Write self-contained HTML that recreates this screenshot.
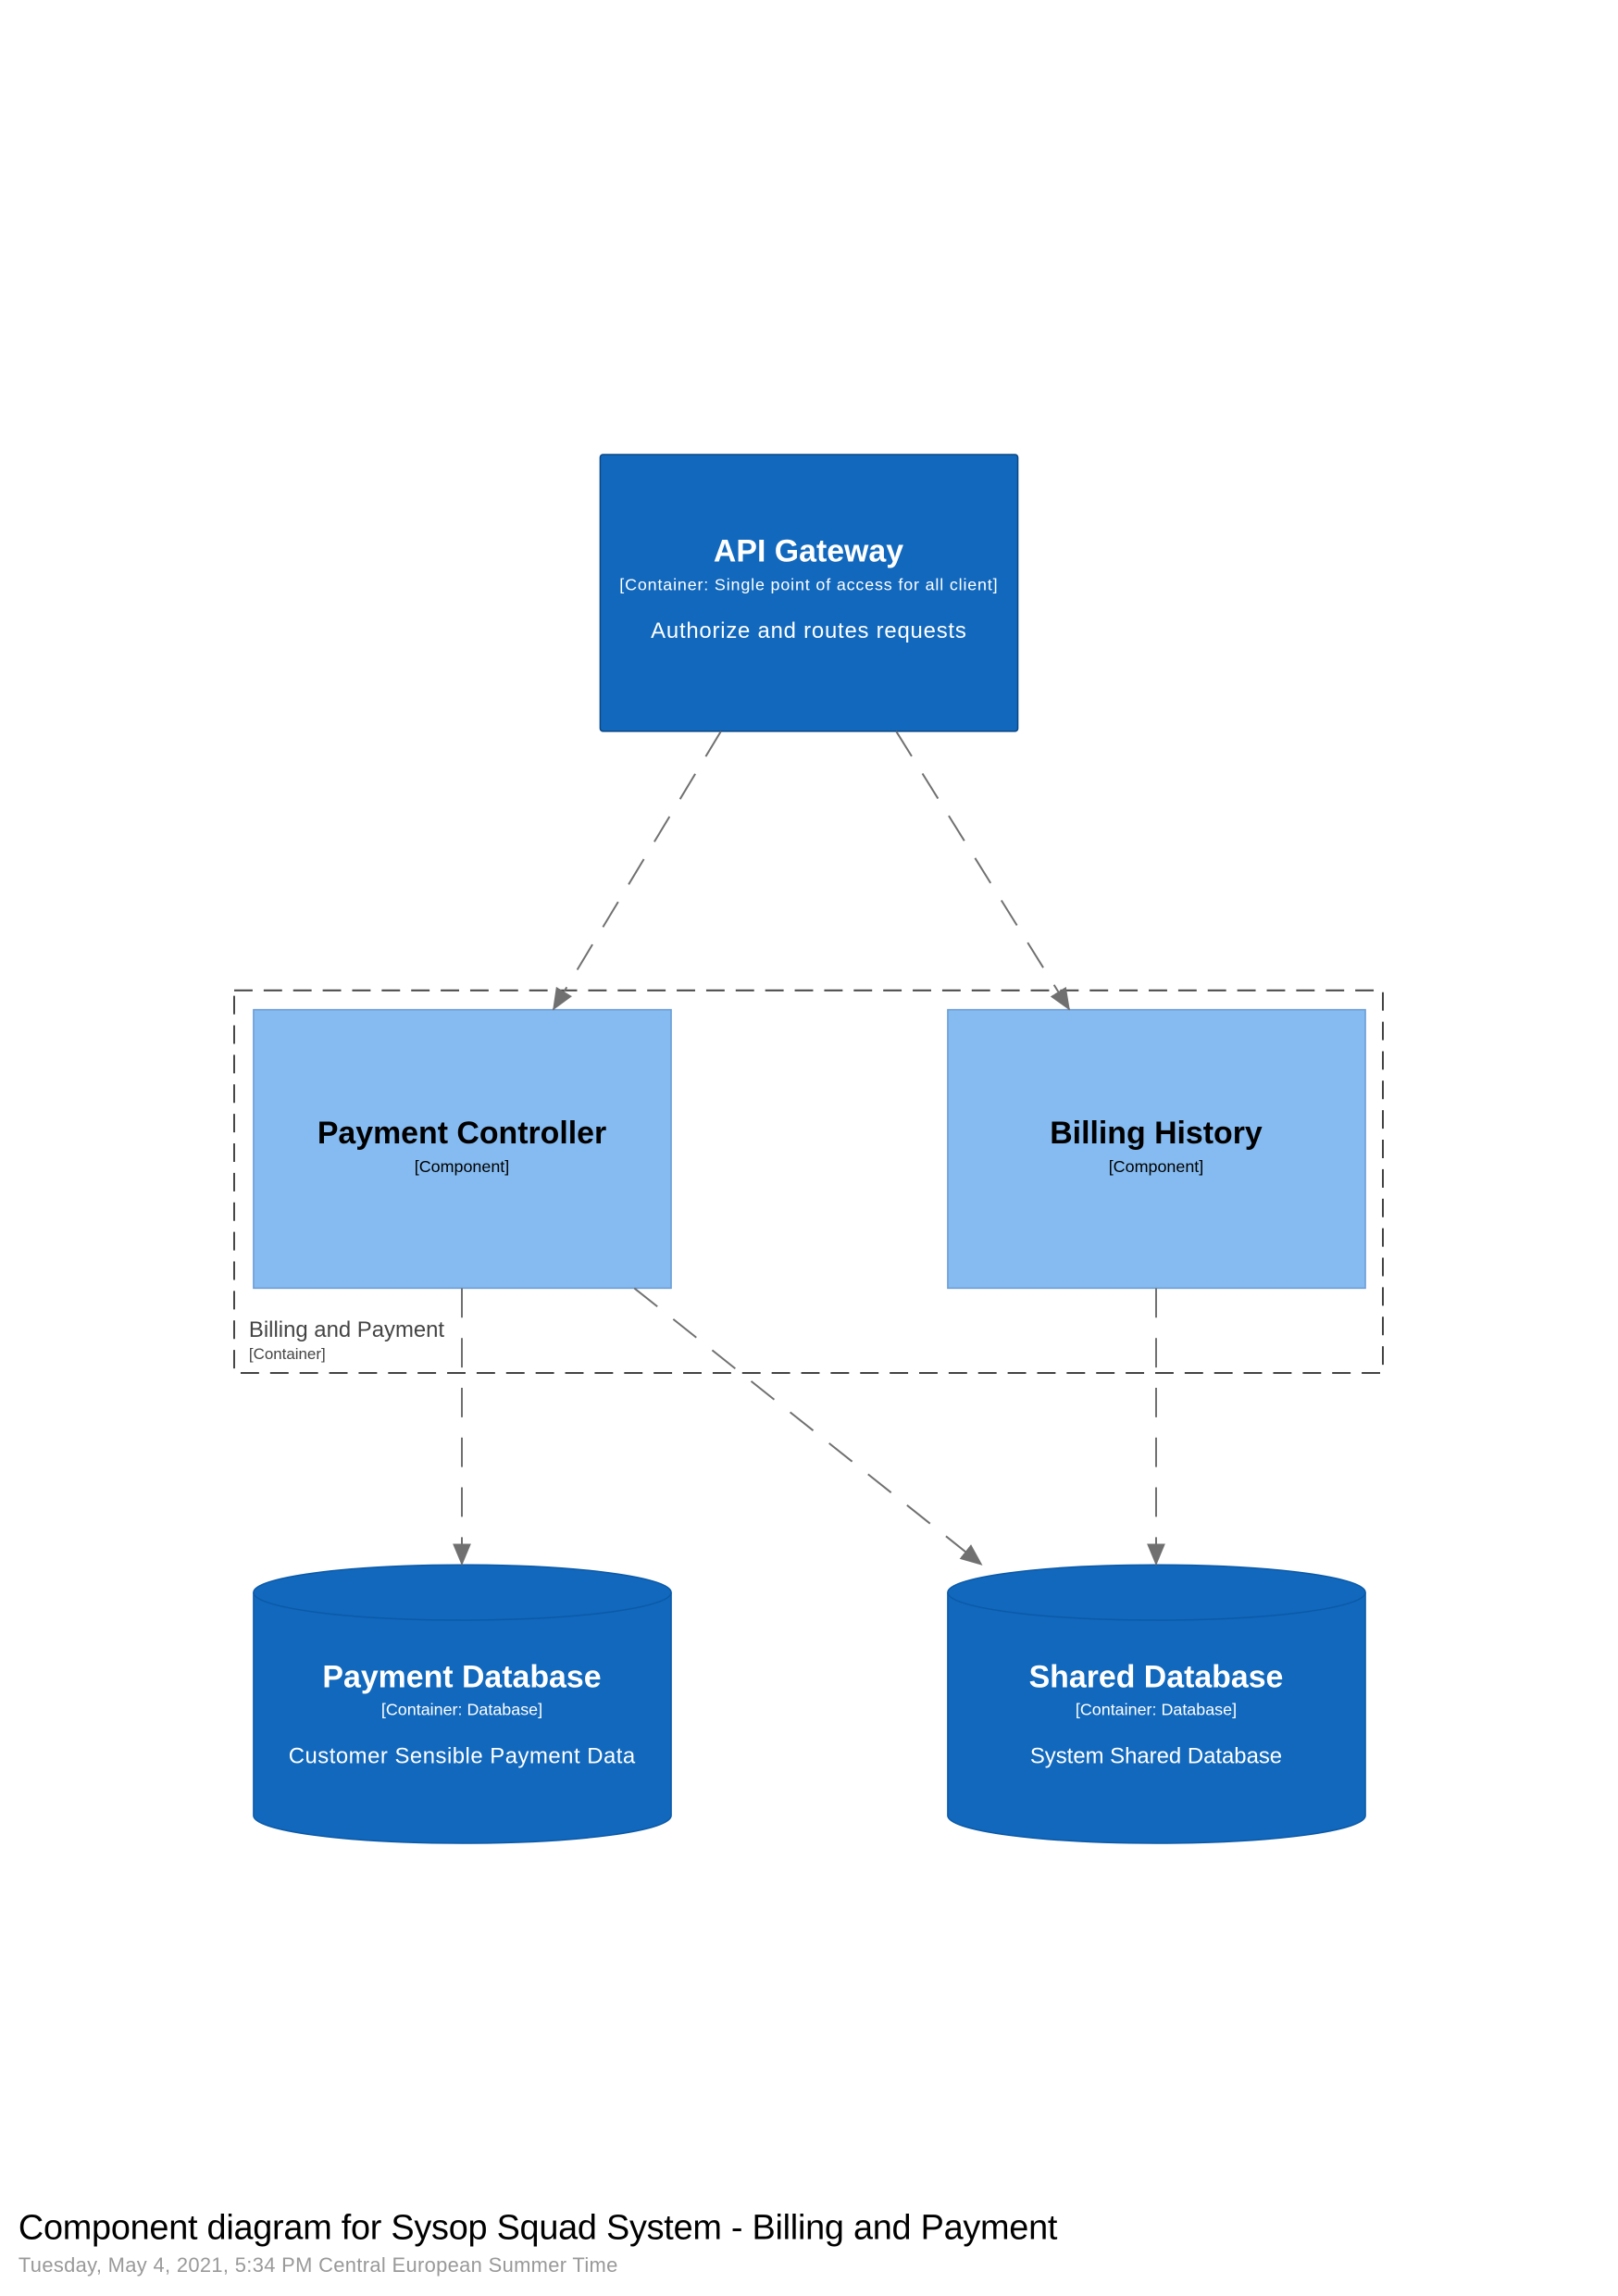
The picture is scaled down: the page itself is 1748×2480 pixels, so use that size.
<!DOCTYPE html>
<html><head><meta charset="utf-8"><style>html,body{margin:0;padding:0;background:#fff}svg{display:block}</style></head>
<body>
<svg width="1748" height="2480" viewBox="0 0 1748 2480" xmlns="http://www.w3.org/2000/svg" font-family="Liberation Sans, sans-serif">
<defs>
<marker id="ah2" markerWidth="26" markerHeight="26" refX="23" refY="13" orient="auto" markerUnits="userSpaceOnUse">
<path d="M0,3 L24,13 L0,23 z" fill="#707070"/>
</marker>
</defs>
<rect width="1748" height="2480" fill="#fff"/>
<g transform="scale(0.996)">
<rect x="254" y="1074" width="1246" height="415" fill="none" stroke="#444" stroke-width="2" stroke-dasharray="20,12"/>
<text x="270" y="1450" font-size="24" fill="#444">Billing and Payment</text>
<text x="270" y="1474" font-size="17" fill="#444">[Container]</text>
<rect x="651" y="493" width="453" height="300" rx="3" fill="#1168bd" stroke="#0b4884" stroke-width="1.5"/>
<text x="877" y="609" font-size="34" font-weight="bold" fill="#fff" text-anchor="middle">API Gateway</text>
<text x="877" y="640" font-size="18" fill="#fff" text-anchor="middle" textLength="410">[Container: Single point of access for all client]</text>
<text x="877" y="692" font-size="24" fill="#fff" text-anchor="middle" textLength="342">Authorize and routes requests</text>
<rect x="275" y="1095" width="453" height="302" fill="#85bbf0" stroke="#6a9bd4" stroke-width="1.5"/>
<text x="501" y="1240" font-size="34" font-weight="bold" fill="#000" text-anchor="middle">Payment Controller</text>
<text x="501" y="1271" font-size="18" fill="#000" text-anchor="middle">[Component]</text>
<rect x="1028" y="1095" width="453" height="302" fill="#85bbf0" stroke="#6a9bd4" stroke-width="1.5"/>
<text x="1254" y="1240" font-size="34" font-weight="bold" fill="#000" text-anchor="middle">Billing History</text>
<text x="1254" y="1271" font-size="18" fill="#000" text-anchor="middle">[Component]</text>
<g>
<path d="M275,1727 A226.5,30 0 0 1 728,1727 L728,1969 A226.5,30 0 0 1 275,1969 Z" fill="#1168bd" stroke="#0b5aa8" stroke-width="1.5"/>
<path d="M275,1727 A226.5,30 0 0 0 728,1727" fill="none" stroke="#0b5aa8" stroke-width="1.5"/>
<text x="501" y="1830" font-size="34" font-weight="bold" fill="#fff" text-anchor="middle">Payment Database</text>
<text x="501" y="1860" font-size="18" fill="#fff" text-anchor="middle">[Container: Database]</text>
<text x="501" y="1912" font-size="24" fill="#fff" text-anchor="middle" textLength="376">Customer Sensible Payment Data</text>
</g>
<g>
<path d="M1028,1727 A226.5,30 0 0 1 1481,1727 L1481,1969 A226.5,30 0 0 1 1028,1969 Z" fill="#1168bd" stroke="#0b5aa8" stroke-width="1.5"/>
<path d="M1028,1727 A226.5,30 0 0 0 1481,1727" fill="none" stroke="#0b5aa8" stroke-width="1.5"/>
<text x="1254" y="1830" font-size="34" font-weight="bold" fill="#fff" text-anchor="middle">Shared Database</text>
<text x="1254" y="1860" font-size="18" fill="#fff" text-anchor="middle">[Container: Database]</text>
<text x="1254" y="1912" font-size="24" fill="#fff" text-anchor="middle">System Shared Database</text>
</g>
<g stroke="#707070" stroke-width="2" fill="none" stroke-dasharray="32,22">
<line x1="782" y1="793" x2="600" y2="1095" marker-end="url(#ah2)"/>
<line x1="972" y1="793" x2="1160" y2="1095" marker-end="url(#ah2)"/>
<line x1="501" y1="1397" x2="501" y2="1697" marker-end="url(#ah2)"/>
<line x1="688" y1="1397" x2="1065" y2="1697" marker-end="url(#ah2)"/>
<line x1="1254" y1="1397" x2="1254" y2="1697" marker-end="url(#ah2)"/>
</g>
<text x="20" y="2428" font-size="38" fill="#000" textLength="1127">Component diagram for Sysop Squad System - Billing and Payment</text>
<text x="20" y="2464" font-size="22" fill="#999" textLength="650">Tuesday, May 4, 2021, 5:34 PM Central European Summer Time</text>
</g>
</svg>
</body></html>
